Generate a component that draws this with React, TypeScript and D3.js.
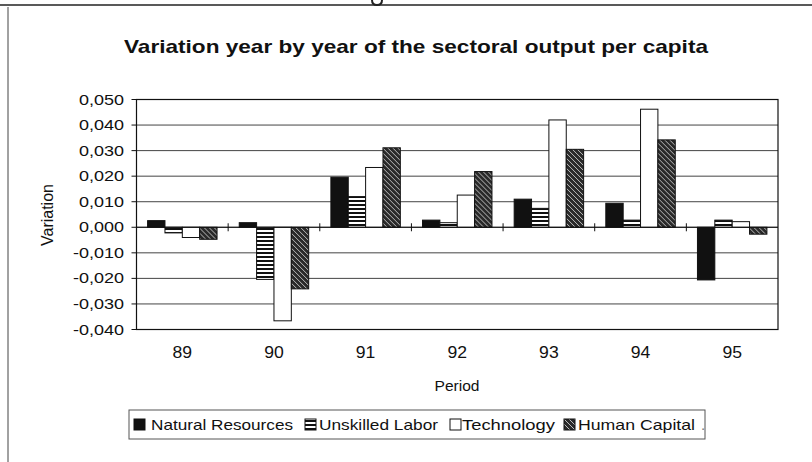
import React from "react";
import * as d3 from "d3";

const years = ["89", "90", "91", "92", "93", "94", "95"];
const seriesNames = ["Natural Resources", "Unskilled Labor", "Technology", "Human Capital"];
const naturalResources = [0.0026, 0.0018, 0.0196, 0.0028, 0.011, 0.0094, -0.0206];
const unskilledLabor = [-0.0022, -0.0204, 0.012, 0.0018, 0.0074, 0.0028, 0.0028];
const technology = [-0.004, -0.0366, 0.0234, 0.0126, 0.042, 0.0462, 0.0022];
const humanCapital = [-0.0047, -0.0241, 0.0311, 0.0218, 0.0305, 0.0342, -0.0027];
const yTicks = [0.05, 0.04, 0.03, 0.02, 0.01, 0, -0.01, -0.02, -0.03, -0.04];
const title = "Variation year by year of the sectoral output per capita";
const xTitle = "Period";
const yTitle = "Variation";

const seriesValues = [naturalResources, unskilledLabor, technology, humanCapital];
const fills = ["#111", "url(#pUL)", "#fff", "url(#pHC)"];

const FONT = "'Liberation Sans', Arial, sans-serif";

const fmt = (v: number) => {
  const s = Math.abs(v).toFixed(3).replace(".", ",");
  return (v < 0 ? "-" : "") + s;
};

export default function App() {
  const left = 136.5, right = 778, top = 99.5, bottom = 329.5;
  const y = d3.scaleLinear().domain([-0.04, 0.05]).range([bottom, top]);
  const x0 = d3.scaleBand<string>().domain(years).range([left, right]).padding(0);
  const gap = 11.1;
  const x1 = d3
    .scaleBand<number>()
    .domain(d3.range(seriesNames.length))
    .range([gap, x0.bandwidth() - gap])
    .padding(0);
  const zero = y(0);

  const legendItems = [
    { sx: 134, tx: 151, w: 142 },
    { sx: 305, tx: 319, w: 119 },
    { sx: 450, tx: 462, w: 93 },
    { sx: 564, tx: 578, w: 117 },
  ];

  return (
    <svg
      width={812}
      height={462}
      style={{ position: "absolute", left: 0, top: 0, display: "block", background: "#fff" }}
      fontFamily={FONT}
    >
      <defs>
        <pattern id="pUL" patternUnits="userSpaceOnUse" width={6} height={4}>
          <rect width={6} height={4} fill="#fff" />
          <rect width={6} height={2} fill="#111" />
        </pattern>
        <pattern id="pHC" patternUnits="userSpaceOnUse" width={5} height={5}>
          <rect width={5} height={5} fill="#2a2a2a" />
          <path d="M0,0 L5,5 M-1,4 L1,6 M4,-1 L6,1" stroke="#bbb" strokeWidth={1} />
        </pattern>
      </defs>

      {/* scan frame remnants */}
      <line x1={0} x2={812} y1={5} y2={5} stroke="#222" strokeWidth={1.5} />
      <path d="M372,0 Q372,5 377,5 Q382,5 382,0" fill="none" stroke="#222" strokeWidth={2} />
      <line x1={8} x2={8} y1={7} y2={462} stroke="#444" strokeWidth={1} />

      {/* title */}
      <text
        x={416}
        y={53}
        fontSize={19}
        fontWeight="bold"
        textAnchor="middle"
        textLength={584}
        lengthAdjust="spacingAndGlyphs"
        fill="#111"
      >
        {title}
      </text>

      {/* gridlines */}
      {yTicks.map((t) => (
        <line key={"g" + t} x1={left} x2={right} y1={y(t)} y2={y(t)} stroke="#444" strokeWidth={1} />
      ))}

      {/* bars */}
      {years.map((yr, i) => (
        <g key={yr} transform={`translate(${x0(yr)},0)`}>
          {seriesValues.map((vals, s) => {
            const v = vals[i];
            const y0 = Math.min(y(v), zero);
            const h = Math.abs(y(v) - zero);
            return (
              <rect
                key={s}
                x={x1(s)}
                y={y0}
                width={x1.bandwidth()}
                height={h}
                fill={fills[s]}
                stroke="#111"
                strokeWidth={1}
              />
            );
          })}
        </g>
      ))}

      {/* x axis at zero with category ticks */}
      <line x1={left} x2={right} y1={zero} y2={zero} stroke="#111" strokeWidth={1} />
      {years.slice(1).map((yr) => (
        <line key={"t" + yr} x1={x0(yr)} x2={x0(yr)} y1={zero - 4} y2={zero + 4} stroke="#111" strokeWidth={1} />
      ))}

      {/* plot border */}
      <rect x={left} y={top} width={right - left} height={bottom - top} fill="none" stroke="#111" strokeWidth={1.2} />

      {/* y ticks and labels */}
      {yTicks.map((t) => (
        <g key={"y" + t}>
          <line x1={left - 5} x2={left} y1={y(t)} y2={y(t)} stroke="#111" />
          <text
            transform={`translate(124,${y(t) + 5}) scale(1.2,1)`}
            fontSize={15}
            textAnchor="end"
            fill="#111"
          >
            {fmt(t)}
          </text>
        </g>
      ))}

      {/* x labels */}
      {years.map((yr) => (
        <text
          key={"xl" + yr}
          transform={`translate(${(x0(yr) as number) + x0.bandwidth() / 2},358) scale(1.1,1)`}
          fontSize={16}
          textAnchor="middle"
          fill="#111"
        >
          {yr}
        </text>
      ))}

      {/* axis titles */}
      <text x={457} y={391} fontSize={15} textAnchor="middle" fill="#111" textLength={45} lengthAdjust="spacingAndGlyphs">
        {xTitle}
      </text>
      <text
        transform="translate(53,215) rotate(-90)"
        fontSize={16}
        textAnchor="middle"
        fill="#111"
      >
        {yTitle}
      </text>

      {/* legend */}
      <rect x={129} y={410} width={576} height={29} fill="#fff" stroke="#555" strokeWidth={1} />
      {seriesNames.map((name, s) => (
        <g key={name}>
          <rect x={legendItems[s].sx} y={419} width={11} height={11} fill={fills[s]} stroke="#111" strokeWidth={1} />
          <text
            x={legendItems[s].tx}
            y={430}
            fontSize={15}
            fill="#111"
            textLength={legendItems[s].w}
            lengthAdjust="spacingAndGlyphs"
          >
            {name}
          </text>
        </g>
      ))}
      <text x={701} y={430} fontSize={15} fill="#777">.</text>
    </svg>
  );
}
